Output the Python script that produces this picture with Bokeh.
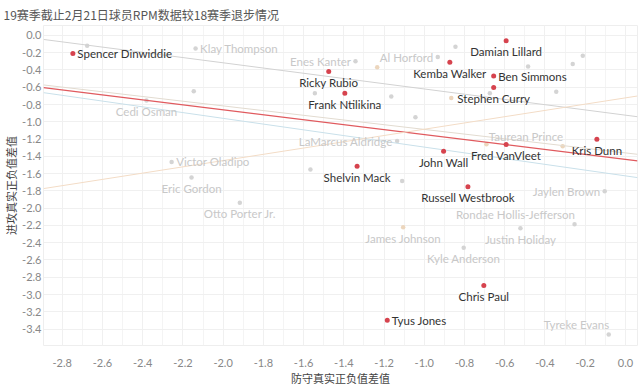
from bokeh.plotting import figure
from bokeh.models import ColumnDataSource, Range1d, SingleIntervalTicker, PrintfTickFormatter
from bokeh.core.properties import value
from bokeh.embed import file_html
from bokeh.resources import INLINE

title_text = "19赛季截止2月21日球员RPM数据较18赛季退步情况"
x_title = "防守真实正负值差值"
y_title = "进攻真实正负值差值"

players = [
    "Spencer Dinwiddie", "Damian Lillard", "Ricky Rubio", "Kemba Walker", "Ben Simmons",
    "Stephen Curry", "Frank Ntilikina", "Fred VanVleet", "John Wall", "Kris Dunn",
    "Shelvin Mack", "Russell Westbrook", "Chris Paul", "Tyus Jones",
    "Klay Thompson", "Enes Kanter", "Al Horford", "Cedi Osman", "Victor Oladipo",
    "Eric Gordon", "Otto Porter Jr.", "LaMarcus Aldridge", "Taurean Prince", "Jaylen Brown",
    "Rondae Hollis-Jefferson", "Justin Holiday", "James Johnson", "Kyle Anderson", "Tyreke Evans",
    "", "", "", "", "", "", "", "", "", "", "", "", "", "", "", "",
]
def_diff = [
    -2.747, -0.593, -1.475, -0.873, -0.655,
    -0.655, -1.395, -0.593, -0.904, -0.142,
    -1.334, -0.783, -0.704, -1.184,
    -2.137, -1.342, -0.933, -2.381, -2.256,
    -2.157, -1.917, -1.135, -0.312, -0.103,
    -0.253, -0.522, -1.105, -0.804, -0.083,
    -2.676, -2.146, -0.845, -1.234, -0.484, -0.262, -0.212, -0.674,
    -0.866, -0.344, -1.044, -1.544, -1.164, -1.566, -1.110, -0.691,
]
off_diff = [
    -0.208, -0.063, -0.419, -0.311, -0.471,
    -0.603, -0.669, -1.264, -1.341, -1.203,
    -1.514, -1.753, -2.895, -3.299,
    -0.150, -0.300, -0.251, -0.754, -1.465,
    -1.645, -1.938, -1.223, -1.284, -1.803,
    -2.187, -2.233, -2.221, -2.457, -3.464,
    -0.119, -0.646, -0.130, -0.369, -0.361, -0.330, -0.234, -0.669,
    -0.724, -0.653, -0.946, -0.669, -0.707, -1.552, -1.684, -1.261,
]
groups = [
    "red", "red", "red", "red", "red",
    "red", "red", "red", "red", "red",
    "red", "red", "red", "red",
    "grey", "grey", "grey", "grey", "grey",
    "grey", "grey", "grey", "tan", "grey",
    "grey", "grey", "tan", "grey", "grey",
    "grey", "grey", "grey", "tan", "grey", "grey", "grey", "grey",
    "tan", "grey", "grey", "grey", "grey", "grey", "grey", "tan",
]
label_side = [
    "right", "below", "below", "below", "right",
    "below", "below", "below", "below", "below",
    "below", "below", "below", "right",
    "right", "left", "left", "below", "right",
    "below", "below", "left", "aboveleft", "left",
    "aboveleft", "below", "below", "below", "aboveleft",
    "none", "none", "none", "none", "none", "none", "none", "none",
    "none", "none", "none", "none", "none", "none", "none", "none",
]

trend_slope = [-0.303, -0.272, -0.287, -0.333, 0.363]
trend_intercept = [-0.923, -1.360, -1.435, -1.626, -0.723]
trend_color = ["#d2d2d2", "#e2dbd0", "#e05a5e", "#c9e0ea", "#f3dcc6"]
trend_width = [1.0, 1.0, 1.4, 1.0, 1.0]

dot_colors = {"red": "#d6434e", "grey": "#d4d4d4", "tan": "#ecd6bd"}
text_colors = {"red": "#333333", "grey": "#c8c8c8", "tan": "#c8c8c8"}
side_style = {
    "right": (4.5, 0, "left"),
    "below": (0, 11, "center"),
    "left": (-4.5, 0, "right"),
    "aboveleft": (0.5, -10, "right"),
    "none": (0, 0, "left"),
}


def build(sel):
    idx = [i for i, g in enumerate(groups) if sel(g)]
    return ColumnDataSource(dict(
        x=[def_diff[i] for i in idx],
        y=[off_diff[i] for i in idx],
        name=[players[i] for i in idx],
        dot=[dot_colors[groups[i]] for i in idx],
        tcol=[text_colors[groups[i]] for i in idx],
        dx=[side_style[label_side[i]][0] for i in idx],
        dy=[side_style[label_side[i]][1] for i in idx],
        align=[side_style[label_side[i]][2] for i in idx],
    ))


back = build(lambda g: g != "red")
front = build(lambda g: g == "red")

x0, x1 = -2.893, 0.06
p = figure(width=640, height=388, x_range=Range1d(x0, x1), y_range=Range1d(-3.59, 0.115),
           output_backend="svg", toolbar_location=None, title=title_text,
           min_border_left=43, min_border_right=3, min_border_top=0, min_border_bottom=42)
p.background_fill_color = "white"
p.border_fill_color = "white"
p.outline_line_color = "#eeeeee"

p.title.text_font = "Noto Sans CJK SC"
p.title.text_font_size = "12px"
p.title.text_font_style = "normal"
p.title.text_color = "#555555"
p.title.align = "left"
p.title.offset = -40
p.title.standoff = 6

p.xaxis.ticker = SingleIntervalTicker(interval=0.2, num_minor_ticks=2)
p.yaxis.ticker = SingleIntervalTicker(interval=0.2, num_minor_ticks=0)
for ax in (p.xaxis[0], p.yaxis[0]):
    ax.formatter = PrintfTickFormatter(format="%.1f")
    ax.axis_line_color = None
    ax.major_tick_line_color = None
    ax.minor_tick_line_color = None
    ax.major_tick_out = 0
    ax.minor_tick_out = 0
    ax.major_label_text_font = "Lato"
    ax.major_label_text_font_size = "11px"
    ax.major_label_text_color = "#888888"
    ax.axis_label_text_font = "Noto Sans CJK SC"
    ax.axis_label_text_font_size = "11px"
    ax.axis_label_text_font_style = "normal"
    ax.axis_label_text_color = "#444444"
p.xaxis.axis_label = x_title
p.yaxis.axis_label = y_title
p.xaxis.major_label_standoff = 13
p.xaxis.axis_label_standoff = 0
p.yaxis.major_label_standoff = 2
p.yaxis.axis_label_standoff = 0

p.xgrid.grid_line_color = "#f0f0f0"
p.xgrid.minor_grid_line_color = "#f4f4f4"
p.ygrid.grid_line_color = "#f0f0f0"

p.scatter("x", "y", source=back, size=4.5, color="dot", line_color=None)

for m, b, c, w in zip(trend_slope, trend_intercept, trend_color, trend_width):
    xs = [x0, x1]
    ys = [b + m * v for v in xs]
    p.line(xs, ys, line_color=c, line_width=w)

p.scatter("x", "y", source=front, size=5, color="dot", line_color=None)

for src in (back, front):
    p.text("x", "y", text="name", source=src, x_offset="dx", y_offset="dy",
           text_align="align", text_baseline="middle", text_color="tcol",
           text_font=value("Lato"), text_font_size="11.5px")

open("out.html", "w").write(file_html(p, INLINE))
